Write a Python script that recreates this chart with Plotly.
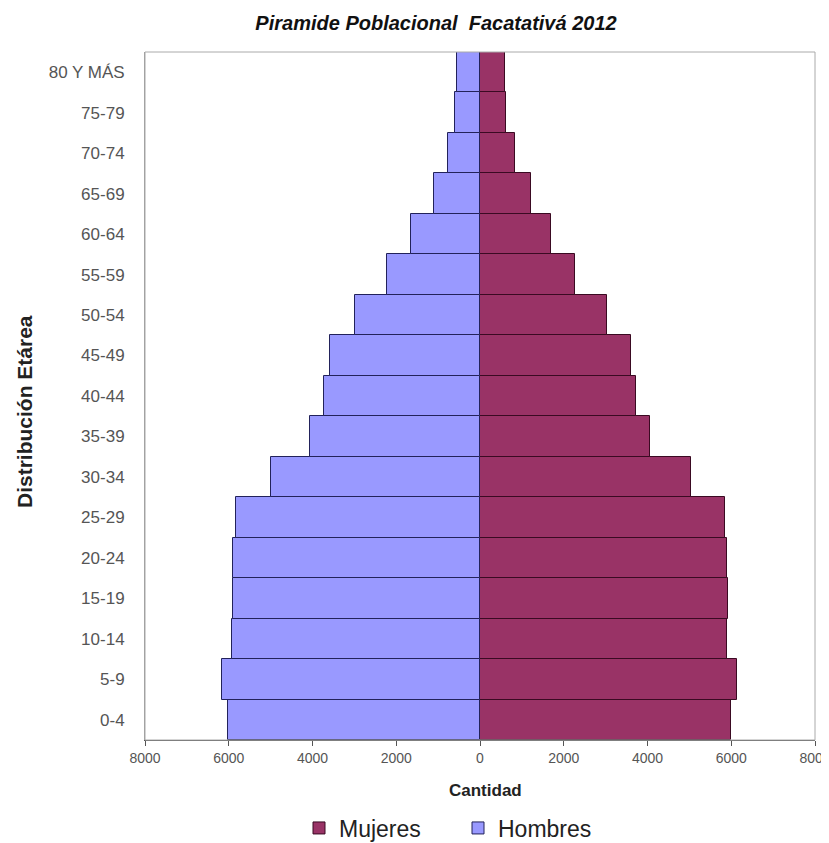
import plotly.graph_objects as go

categories = ["0-4", "5-9", "10-14", "15-19", "20-24", "25-29", "30-34", "35-39",
              "40-44", "45-49", "50-54", "55-59", "60-64", "65-69", "70-74", "75-79", "80 Y MÁS"]
hombres = [6020, 6160, 5930, 5890, 5890, 5830, 4990, 4060, 3730, 3580, 2990, 2220, 1640, 1110, 770, 590, 560]
mujeres = [6000, 6130, 5910, 5930, 5910, 5850, 5030, 4060, 3730, 3600, 3040, 2260, 1700, 1210, 830, 620, 590]
tick_vals = [-8000, -6000, -4000, -2000, 0, 2000, 4000, 6000, 8000]
tick_text = ["8000", "6000", "4000", "2000", "0", "2000", "4000", "6000", "8000"]

FONT = "Liberation Sans, Arial, sans-serif"

W, H = 821, 835
L, R, T, B = 137, 14, 44, 103
PW = W - L - R

fig = go.Figure()
fig.add_trace(go.Bar(
    y=categories, x=mujeres, orientation="h", name="Mujeres",
    marker=dict(color="#993366", line=dict(color="#3a0a22", width=1)),
))
fig.add_trace(go.Bar(
    y=categories, x=[-v for v in hombres], orientation="h", name="Hombres",
    marker=dict(color="#9999FF", line=dict(color="#22225a", width=1)),
))

fig.update_layout(
    width=W, height=H,
    barmode="relative", bargap=0,
    paper_bgcolor="white", plot_bgcolor="white",
    margin=dict(l=L, r=R, t=T, b=B, autoexpand=False),
    font=dict(family=FONT, color="#555"),
    title=dict(text="<b><i>Piramide Poblacional  Facatativá 2012</i></b>",
               x=428 / W, xanchor="center", y=1 - 15 / H, yanchor="middle",
               font=dict(size=20, color="#111", family=FONT)),
    xaxis=dict(range=[-8000, 8000], tickvals=tick_vals, ticktext=tick_text, automargin=False,
               showgrid=False, zeroline=False, showline=True, linecolor="#555", linewidth=1,
               ticks="outside", ticklen=5, tickcolor="#555", ticklabeloverflow="allow",
               tickfont=dict(size=14, color="#555", family=FONT)),
    yaxis=dict(showgrid=False, zeroline=False, showline=True, linecolor="#999", linewidth=1,
               ticks="", ticklabelstandoff=16, automargin=False,
               tickfont=dict(size=17, color="#555", family=FONT)),
    legend=dict(orientation="h", x=0.5 - 22 / PW, xanchor="center", y=-88 / (H - T - B), yanchor="middle",
                font=dict(size=23, color="#222", family=FONT), traceorder="normal",
                itemwidth=30, entrywidth=114),
    showlegend=True,
)
fig.add_annotation(text="<b>Distribución Etárea</b>", xref="paper", yref="paper",
                   x=0, y=(H - B - 404) / (H - T - B), xshift=-121, xanchor="center", yanchor="middle",
                   textangle=-90, showarrow=False, font=dict(size=21, color="#222", family=FONT))
fig.add_annotation(text="<b>Cantidad</b>", xref="paper", yref="paper",
                   x=0.5, y=0, yshift=-50, xshift=5, xanchor="center", yanchor="middle",
                   showarrow=False, font=dict(size=17, color="#222", family=FONT))
fig.add_shape(type="rect", xref="paper", yref="paper", x0=0, x1=1, y0=0, y1=1,
              line=dict(color="#aaa", width=1), layer="above")

fig.write_html("out.html")
